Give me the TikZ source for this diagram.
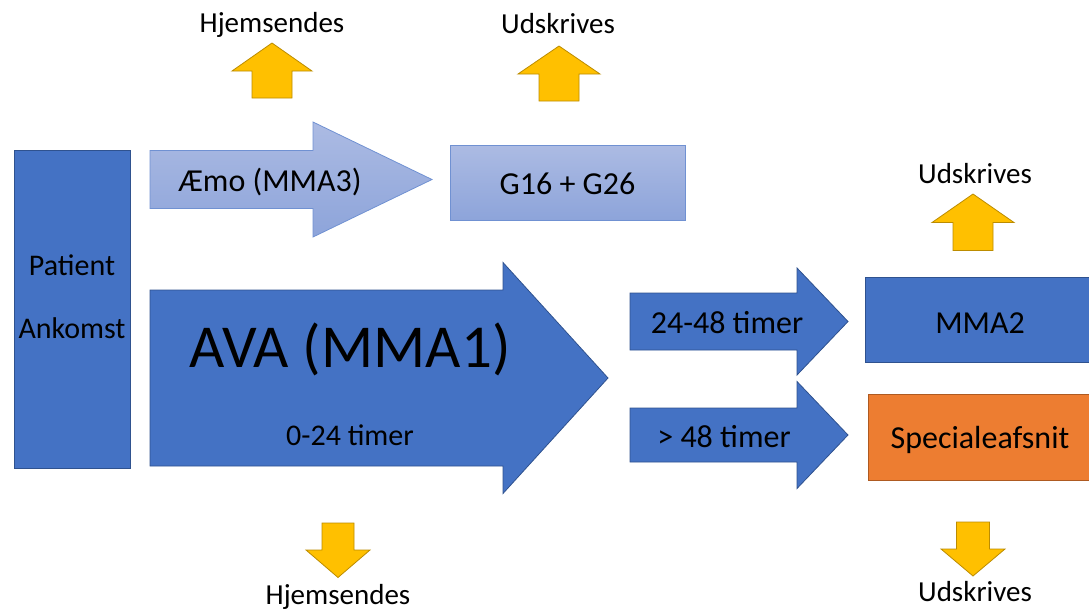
\documentclass[tikz,border=0pt]{standalone}
\usepackage{fontspec}
\setmainfont{Carlito}
\definecolor{avablue}{RGB}{68,114,196}
\definecolor{avaline}{RGB}{47,82,143}
\definecolor{aemotop}{RGB}{172,187,227}
\definecolor{aemobot}{RGB}{141,164,218}
\definecolor{aemoline}{RGB}{112,145,210}
\definecolor{specorange}{RGB}{237,125,49}
\definecolor{specline}{RGB}{174,90,33}
\definecolor{outyellow}{RGB}{255,192,0}
\definecolor{outline}{RGB}{188,140,0}
% horizontal block arrow: style, body left, head base, tip, mid y, body half, head half
\newcommand{\harrow}[7]{%
  \draw[#1] (#2,{#5-#6}) -- (#3,{#5-#6}) -- (#3,{#5-#7}) -- (#4,#5)
    -- (#3,{#5+#7}) -- (#3,{#5+#6}) -- (#2,{#5+#6}) -- cycle;}
% vertical block arrow: style, mid x, shaft end, head base, tip, shaft half, head half
\newcommand{\varrow}[7]{%
  \draw[#1] ({#2-#6},#3) -- ({#2+#6},#3) -- ({#2+#6},#4) -- ({#2+#7},#4)
    -- (#2,#5) -- ({#2-#7},#4) -- ({#2-#6},#4) -- cycle;}
\begin{document}
\begin{tikzpicture}[x=1pt, y=-1pt,
    box/.style={draw=avaline, fill=avablue, line width=0.8pt, inner sep=0pt},
    bluearrow/.style={draw=avaline, fill=avablue, line width=0.8pt},
    aemoarrow/.style={draw=aemoline, top color=aemotop, bottom color=aemobot, line width=0.8pt},
    exitarrow/.style={draw=outline, fill=outyellow, line width=0.8pt},
    boxtext/.style={anchor=base, inner sep=0pt, font=\fontsize{32}{38}\selectfont},
    exittext/.style={anchor=base, inner sep=0pt, font=\fontsize{29}{35}\selectfont}
  ]
  \useasboundingbox (0,0) rectangle (1089,611);

  % arrival
  \node[box, minimum width=116pt, minimum height=318pt] (patient) at (72,309.5) {};
  \node[boxtext, font=\fontsize{30}{36}\selectfont] (patientlbl) at (72,275) {Patient};
  \node[boxtext, font=\fontsize{30}{36}\selectfont] (ankomstlbl) at (72,338) {Ankomst};

  % upper track
  \harrow{aemoarrow}{150}{313}{432}{179.5}{29}{57.5}
  \node[boxtext] (aemo) at (270,191) {Æmo (MMA3)};
  \node[box, draw=aemoline, top color=aemotop, bottom color=aemobot,
    minimum width=235pt, minimum height=75pt] (gafsnit) at (567.5,182.5) {};
  \node[boxtext] (glbl) at (567.5,194) {G16 + G26};

  % main track
  \harrow{bluearrow}{150}{503}{608}{378}{88}{115.5}
  \node[boxtext, font=\fontsize{61}{70}\selectfont] (ava) at (350,367) {AVA (MMA1)};
  \node[boxtext, font=\fontsize{30}{36}\selectfont] (avatid) at (350,445) {0-24 timer};

  \harrow{bluearrow}{630}{797}{848}{321.5}{28.5}{53.5}
  \node[boxtext] (kort) at (727,333) {24-48 timer};
  \harrow{bluearrow}{630}{797}{848}{435}{27}{53.5}
  \node[boxtext] (lang) at (724,447) {> 48 timer};

  \node[box, minimum width=224pt, minimum height=85pt] (mma) at (977,319.5) {};
  \node[boxtext] (mmalbl) at (980,333) {MMA2};
  \node[box, draw=specline, fill=specorange, minimum width=221pt, minimum height=86pt] (spec) at (978.5,437) {};
  \node[boxtext] (speclbl) at (980,448) {Specialeafsnit};

  % exits
  \varrow{exitarrow}{272}{98}{71}{43}{20}{40}
  \node[exittext] (hjem1) at (272,32) {Hjemsendes};
  \varrow{exitarrow}{559}{101}{74}{46}{20}{41}
  \node[exittext] (ud1) at (558,33) {Udskrives};
  \varrow{exitarrow}{973}{250.5}{222.5}{194}{20}{41}
  \node[exittext] (ud2) at (975,183) {Udskrives};
  \varrow{exitarrow}{338}{523}{550}{577.5}{16}{32}
  \node[exittext] (hjem2) at (338,604) {Hjemsendes};
  \varrow{exitarrow}{973}{522}{549}{576}{16.5}{32}
  \node[exittext] (ud3) at (975,601) {Udskrives};
\end{tikzpicture}
\end{document}
